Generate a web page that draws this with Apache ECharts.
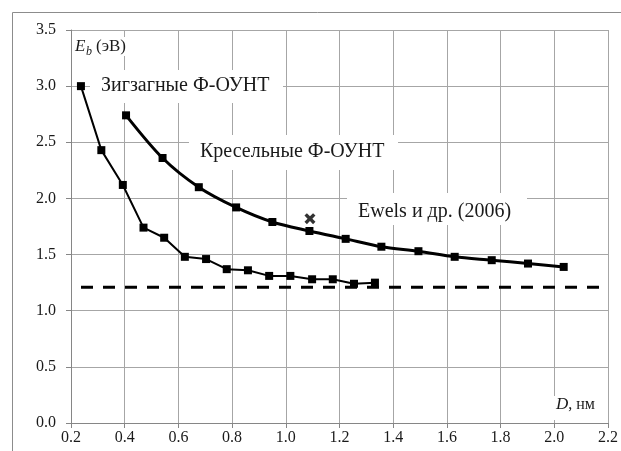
<!DOCTYPE html>
<html><head><meta charset="utf-8">
<script src="https://cdn.jsdelivr.net/npm/echarts@6.0.0/dist/echarts.min.js"></script>
<style>html,body{margin:0;padding:0;background:#fff}#c{width:621px;height:451px}</style>
</head><body><div id="c"></div>
<script>
// Zigzag F-SWNT (thin line)
const zigzagD = [0.237, 0.313, 0.393, 0.470, 0.547, 0.624, 0.703, 0.780, 0.859, 0.938, 1.017, 1.098, 1.175, 1.254, 1.332];
const zigzagE = [3.00, 2.43, 2.12, 1.74, 1.65, 1.48, 1.46, 1.37, 1.36, 1.31, 1.31, 1.28, 1.28, 1.24, 1.25];
// Armchair F-SWNT (thick line)
const armD = [0.405, 0.541, 0.676, 0.815, 0.950, 1.088, 1.223, 1.356, 1.494, 1.629, 1.767, 1.902, 2.035];
const armE = [2.74, 2.36, 2.10, 1.92, 1.79, 1.71, 1.64, 1.57, 1.53, 1.48, 1.45, 1.42, 1.39];
// Ewels et al. (2006)
const ewelsD = [1.09];
const ewelsE = [1.82];
// Dashed reference level
const refD = [0.2, 2.2];
const refE = [1.21, 1.21];

const labelZigzag = 'Зигзагные Ф-ОУНТ';
const labelArm = 'Кресельные Ф-ОУНТ';
const labelEwels = 'Ewels и др. (2006)';

const zip = (a, b) => a.map((v, i) => [v, b[i]]);
const FONT = "'Liberation Serif', 'Times New Roman', serif";
const TXT = '#1a1a1a';

const chart = echarts.init(document.getElementById('c'), null, {renderer: 'canvas'});

function box(x, y, w, h) {
  return {type: 'rect', z: 10, shape: {x: x, y: y, width: w, height: h}, style: {fill: '#fff'}};
}
function txt(x, y, s, size, italic) {
  return {type: 'text', z: 11, x: x, y: y, style: {text: s, fill: TXT, font: (italic ? 'italic ' : '') + size + 'px ' + FONT, verticalAlign: 'middle', align: 'left'}};
}

chart.setOption({
  animation: false,
  backgroundColor: '#fff',
  grid: {left: 71, right: 8, top: 30, bottom: 28, containLabel: false},
  xAxis: {
    type: 'value', min: 0.2, max: 2.2, interval: 0.2,
    axisLine: {show: true, lineStyle: {color: '#868686', width: 1}},
    axisTick: {show: true, inside: false, length: 5, lineStyle: {color: '#868686'}},
    splitLine: {show: true, lineStyle: {color: '#a6a6a6', width: 1}},
    axisLabel: {color: TXT, fontFamily: FONT, fontSize: 16, margin: 7, formatter: v => v.toFixed(1)}
  },
  yAxis: {
    type: 'value', min: 0, max: 3.5, interval: 0.5,
    axisLine: {show: true, lineStyle: {color: '#868686', width: 1}},
    axisTick: {show: true, inside: false, length: 5, lineStyle: {color: '#868686'}},
    splitLine: {show: true, lineStyle: {color: '#a6a6a6', width: 1}},
    axisLabel: {color: TXT, fontFamily: FONT, fontSize: 16, margin: 15, formatter: v => v.toFixed(1)}
  },
  graphic: [
    {type: 'rect', z: 0, silent: true, shape: {x: 12.5, y: 12.5, width: 700, height: 500}, style: {fill: 'none', stroke: '#8c8c8c', lineWidth: 1}},
    box(73, 37, 60, 19),
    txt(75, 47, 'E', 17, true),
    txt(86, 52, 'b', 12, true),
    txt(96, 47, '(эВ)', 17, false),
    box(90, 70, 193, 33),
    txt(101, 86, labelZigzag, 20, false),
    box(189, 135, 209, 35),
    txt(200, 152, labelArm, 20, false),
    box(347, 193, 180, 32),
    txt(358, 212, labelEwels, 20, false),
    box(552, 396, 56, 24),
    {type: 'text', z: 11, x: 556, y: 405, style: {
      text: '{d|D}{n|, нм}', verticalAlign: 'middle', align: 'left',
      rich: {d: {font: 'italic 17px ' + FONT, fill: TXT}, n: {font: '16px ' + FONT, fill: TXT}}
    }}
  ],
  series: [
    {
      name: 'ref', type: 'line', z: 3, data: zip(refD, refE), symbol: 'none',
      lineStyle: {color: '#000', width: 3, type: [12, 10], dashOffset: 12}
    },
    {
      name: labelZigzag, type: 'line', z: 4, data: zip(zigzagD, zigzagE),
      symbol: 'rect', symbolSize: 8, smooth: false,
      lineStyle: {color: '#000', width: 2}, itemStyle: {color: '#000'}
    },
    {
      name: labelArm, type: 'line', z: 4, data: zip(armD, armE),
      symbol: 'rect', symbolSize: 8, smooth: 0.3,
      lineStyle: {color: '#000', width: 3}, itemStyle: {color: '#000'}
    },
    {
      name: labelEwels, type: 'scatter', z: 4, data: zip(ewelsD, ewelsE),
      symbol: 'path://M0,2.2 L2.2,0 L5,2.8 L7.8,0 L10,2.2 L7.2,5 L10,7.8 L7.8,10 L5,7.2 L2.2,10 L0,7.8 L2.8,5 Z',
      symbolSize: 11, itemStyle: {color: '#000'}
    }
  ]
});
</script>
</body></html>
